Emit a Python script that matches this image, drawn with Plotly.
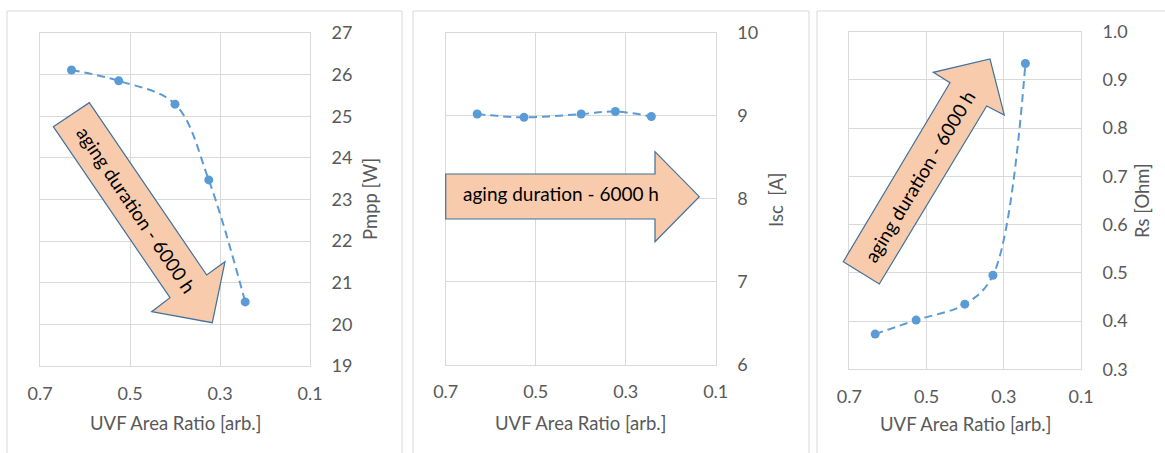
import plotly.graph_objects as go

W, H = 1165, 453

# ---- data ----
uvf_ratio = [0.630, 0.525, 0.400, 0.325, 0.244]
pmpp_w = [26.11, 25.85, 25.29, 23.47, 20.54]
uvf_ratio_isc = [0.630, 0.526, 0.399, 0.323, 0.243]
isc_a = [9.02, 8.98, 9.02, 9.05, 8.99]
uvf_ratio_rs = [0.633, 0.527, 0.401, 0.328, 0.244]
rs_ohm = [0.373, 0.402, 0.435, 0.495, 0.934]

x_ticks = [0.7, 0.5, 0.3, 0.1]
y_titles = ["Pmpp [W]", "Isc\u00a0\u00a0[A]", "Rs [Ohm]"]
x_title = "UVF Area Ratio [arb.]"
arrow_text = "aging duration - 6000 h"

FONT = "Lato"
GRAY = "#595959"
GRID = "#D9D9D9"
BLUE = "#5B9BD5"

def P(x, y):
    return x / W, 1 - y / H

# plot-area pixel boxes (left, top, right, bottom)
boxes = [(40, 33, 310, 366), (445.7, 32.7, 715.7, 364.7), (849.3, 31.7, 1081, 369.3)]
y_ranges = [(19, 27, 1), (6, 10, 1), (0.3, 1.0, 0.1)]
series = [(uvf_ratio, pmpp_w), (uvf_ratio_isc, isc_a), (uvf_ratio_rs, rs_ohm)]

fig = go.Figure()
layout = dict(template="none", width=W, height=H, margin=dict(l=0, r=0, t=0, b=0, pad=0),
              paper_bgcolor="white", plot_bgcolor="white", showlegend=False,
              font=dict(family=FONT, size=18, color=GRAY))

for i, ((l, t, r, b), (y0, y1, dt), (xs, ys)) in enumerate(zip(boxes, y_ranges, series)):
    sfx = "" if i == 0 else str(i + 1)
    fig.add_trace(go.Scatter(
        x=xs, y=ys, mode="lines+markers", xaxis="x" + sfx, yaxis="y" + sfx,
        line=dict(color=BLUE, width=2, dash="8px,5px", shape="spline", smoothing=1.0),
        marker=dict(color=BLUE, size=9, line=dict(width=0))))
    layout["xaxis" + sfx] = dict(
        domain=[l / W, r / W], anchor="y" + sfx, range=[0.7, 0.1], automargin=False,
        tickvals=x_ticks, tickformat=".1f", showgrid=True, gridcolor=GRID, gridwidth=1,
        zeroline=False, showline=True, linecolor=GRID, linewidth=1, mirror=True,
        ticks="outside", ticklen=11, tickcolor="rgba(0,0,0,0)",
        tickfont=dict(family=FONT, size=18, color=GRAY), fixedrange=True)
    layout["yaxis" + sfx] = dict(
        domain=[1 - b / H, 1 - t / H], anchor="x" + sfx, side="right", automargin=False,
        range=[y0, y1], dtick=dt, tick0=y0,
        tickformat=".1f" if dt < 1 else "d",
        showgrid=True, gridcolor=GRID, gridwidth=1, zeroline=False,
        showline=True, linecolor=GRID, linewidth=1, mirror=True,
        ticks="outside", ticklen=17, tickcolor="rgba(0,0,0,0)",
        tickfont=dict(family=FONT, size=18, color=GRAY), fixedrange=True)

fig.update_layout(**layout)

shapes = []
# panel frames
for (x0, y0, x1, y1) in [(7, 11, 402, 470), (413, 11, 809, 470), (817, 11, 1180, 470)]:
    a, b_ = P(x0, y0)
    c, d = P(x1, y1)
    shapes.append(dict(type="rect", xref="paper", yref="paper", x0=a, y0=d, x1=c, y1=b_,
                       line=dict(color=GRID, width=1), fillcolor="rgba(0,0,0,0)", layer="below"))

arrows = [
    [(53.3, 126.7), (89.3, 102.7), (206.7, 275), (225, 261.7), (212.3, 322.7), (151.7, 311.7), (170, 297.7)],
    [(445.7, 174), (655, 174), (655, 151.7), (699.3, 196.7), (655, 241.7), (655, 219), (445.7, 219)],
    [(843.3, 261.7), (879.3, 284), (986.7, 106), (1004.3, 115), (990, 59), (933.3, 72.3), (950, 82.7)],
]
for pts in arrows:
    path = "M " + " L ".join("%.5f,%.5f" % P(x, y) for x, y in pts) + " Z"
    shapes.append(dict(type="path", xref="paper", yref="paper", path=path,
                       fillcolor="#F8CBAD", line=dict(color="#41719C", width=1.2), layer="above"))
fig.update_layout(shapes=shapes)

ann = []
for (x, y, ang) in [(136, 210, 56), (561, 194, 0), (919, 176, -59)]:
    px, py = P(x, y)
    ann.append(dict(x=px, y=py, xref="paper", yref="paper", text=arrow_text, showarrow=False,
                    textangle=ang, font=dict(family=FONT, size=19, color="#000000"),
                    xanchor="center", yanchor="middle"))
for (x, y) in [(175, 423), (580, 423), (965, 424)]:
    px, py = P(x, y)
    ann.append(dict(x=px, y=py, xref="paper", yref="paper", text=x_title, showarrow=False,
                    font=dict(family=FONT, size=18.5, color=GRAY), xanchor="center", yanchor="middle"))
for (x, y), t in zip([(370, 199), (776, 200), (1142, 201)], y_titles):
    px, py = P(x, y)
    ann.append(dict(x=px, y=py, xref="paper", yref="paper", text=t, showarrow=False, textangle=-90,
                    font=dict(family=FONT, size=18.5, color=GRAY), xanchor="center", yanchor="middle"))
fig.update_layout(annotations=ann)

fig.write_html("out.html", config={"displayModeBar": False},
               post_script="document.body.style.margin='0px';document.body.style.overflow='hidden';")
